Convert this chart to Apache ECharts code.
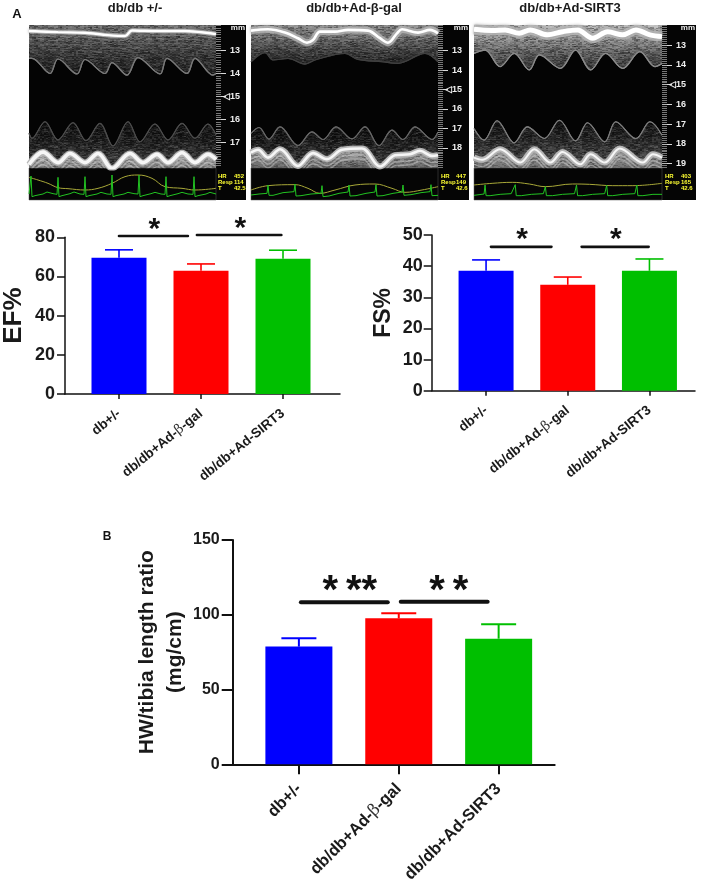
<!DOCTYPE html>
<html><head><meta charset="utf-8">
<style>html,body{margin:0;padding:0;background:#fff}#c{width:709px;height:880px}</style>
<script src="https://cdn.jsdelivr.net/npm/echarts@6/dist/echarts.min.js"></script></head>
<body><div id="c"></div>
<script>
// ---------- bar chart data ----------
const categories = ['db+/-', 'db/db+Ad-β-gal', 'db/db+Ad-SIRT3'];
const barColors = ['#0000ff', '#ff0000', '#00bf00'];
const efMean = [69.5, 62.9, 69.0];
const efUpper = [73.6, 66.4, 73.4];
const fsMean = [38.5, 34.0, 38.5];
const fsUpper = [42.0, 36.5, 42.3];
const hwMean = [78.7, 97.6, 84.0];
const hwUpper = [84.3, 101.0, 93.6];
const efSig = [[0, 0.84, 80.7], [0.95, 1.98, 81.2]];
const fsSig = [[0.06, 0.80, 46.2], [1.17, 1.99, 46.2]];
const hwSig = [[0.02, 0.89, 108.3], [1.02, 1.89, 108.7]];
const efStars = [[0.43, 87.1, '*'], [1.48, 87.6, '*']];
const fsStars = [[0.44, 50.3, '*'], [1.59, 50.3, '*']];
const hwStars = [[0.51, 120.6, '*\u2009**'], [1.50, 120.6, '*\u2009*']];
const efTicks = [0, 20, 40, 60, 80];
const fsTicks = [0, 10, 20, 30, 40, 50];
const hwTicks = [0, 50, 100, 150];

// ---------- M-mode traces: sweep position, depth in mm ----------
const p1WallX = [0, 29, 56, 79, 96, 103, 129, 156, 183, 187];
const p1WallMm = [12.14, 12.19, 12.22, 12.32, 12.36, 12.12, 12.14, 12.14, 12.25, 12.28];
const p1EndoX = [0, 3, 21, 29, 48, 56, 76, 83, 98, 109, 131, 138, 158, 166, 184, 187];
const p1EndoMm = [13.33, 13.33, 13.99, 13.36, 14.01, 13.38, 13.99, 13.52, 14.06, 13.30, 14.01, 13.33, 13.99, 13.33, 14.06, 13.99];
const p1LowerX = [0, 3, 16, 29, 44, 57, 71, 84, 99, 111, 126, 139, 153, 166, 179, 187];
const p1LowerMm = [16.59, 16.81, 16.09, 16.88, 16.13, 16.91, 16.16, 17.14, 16.09, 16.96, 16.19, 16.88, 16.16, 16.81, 16.19, 16.67];
const p1BandX = [0, 14, 29, 41, 56, 69, 83, 101, 114, 128, 139, 153, 166, 179, 187];
const p1BandMm = [17.83, 17.29, 17.75, 17.35, 17.75, 17.35, 18.0, 17.35, 17.75, 17.39, 17.75, 17.32, 17.75, 17.39, 17.61];
const p1EcgX = [0, 1, 2, 3, 6, 14, 18, 24, 28, 29, 30, 33, 41, 45, 51, 55, 56, 57, 60, 68, 72, 78, 82, 83, 84, 87, 95, 99, 105, 109, 110, 111, 114, 122, 126, 132, 136, 137, 138, 141, 149, 153, 159, 164, 165, 166, 169, 177, 181, 187];
const p1EcgV = [8, 8, 62, 0, 3, 8, 14, 9, 7, 58, 0, 3, 9, 14, 8, 7, 60, 0, 3, 8, 13, 8, 7, 65, 0, 3, 8, 13, 9, 8, 65, 0, 3, 9, 13, 8, 7, 60, 0, 3, 9, 13, 8, 7, 60, 0, 3, 8, 13, 8];
const p1RespX = [0, 9, 19, 29, 39, 56, 69, 83, 96, 109, 123, 136, 153, 166, 187];
const p1RespV = [58, 50, 40, 27, 24, 20, 25, 40, 60, 65, 55, 30, 25, 20, 25];

const p2WallX = [0, 17, 34, 47, 56, 62, 69, 84, 97, 117, 129, 137, 146, 151, 167, 179, 187];
const p2WallMm = [11.97, 11.90, 12.07, 12.36, 12.59, 12.45, 12.02, 12.02, 11.93, 11.97, 12.36, 12.59, 12.11, 11.90, 12.07, 11.93, 12.11];
const p2EndoX = [0, 14, 22, 37, 54, 64, 94, 107, 131, 147, 174, 187];
const p2EndoMm = [13.57, 13.10, 13.48, 13.40, 13.69, 13.48, 13.14, 13.45, 13.57, 13.65, 13.14, 13.57];
const p2LowerX = [0, 8, 18, 29, 47, 61, 72, 85, 101, 114, 128, 141, 152, 164, 181, 187];
const p2LowerMm = [17.26, 16.95, 17.55, 16.92, 17.88, 17.18, 17.57, 16.92, 17.54, 16.92, 17.88, 17.09, 17.57, 16.92, 17.57, 17.18];
const p2BandX = [0, 7, 17, 29, 47, 62, 76, 91, 111, 129, 144, 159, 169, 181, 187];
const p2BandMm = [18.12, 17.98, 18.38, 17.95, 18.81, 18.15, 18.46, 17.98, 17.91, 18.84, 18.26, 18.21, 18.03, 18.29, 18.26];
const p2EcgX = [0, 8, 16, 17, 18, 22, 32, 43, 44, 45, 50, 60, 70, 71, 72, 78, 88, 97, 98, 99, 105, 115, 124, 125, 126, 132, 142, 151, 152, 153, 160, 170, 179, 180, 181, 187];
const p2EcgV = [5, 8, 10, 35, 4, 4, 12, 15, 38, 2, 3, 8, 10, 33, 0, 2, 10, 14, 35, 2, 3, 10, 14, 36, 2, 3, 10, 14, 35, 4, 6, 12, 15, 36, 3, 4];
const p2RespX = [0, 17, 44, 57, 69, 84, 104, 124, 141, 154, 171, 187];
const p2RespV = [20, 33, 36, 25, 10, 20, 35, 38, 25, 13, 20, 30];

const p3WallX = [0, 18, 31, 45, 56, 73, 88, 103, 118, 133, 148, 161, 175, 187];
const p3WallMm = [12.19, 12.25, 12.22, 12.39, 12.22, 12.47, 12.31, 12.22, 12.64, 12.31, 12.47, 12.22, 12.47, 12.56];
const p3EndoX = [0, 11, 26, 40, 55, 65, 86, 101, 116, 131, 148, 165, 180, 187];
const p3EndoMm = [13.41, 13.24, 14.08, 13.41, 14.25, 13.49, 14.17, 13.24, 14.25, 13.41, 14.17, 13.32, 14.08, 13.92];
const p3LowerX = [0, 10, 23, 40, 53, 70, 85, 101, 113, 130, 141, 161, 175, 187];
const p3LowerMm = [17.22, 17.81, 16.83, 17.95, 17.14, 17.73, 16.80, 17.85, 16.93, 17.90, 16.88, 17.73, 16.88, 17.56];
const p3BandX = [0, 8, 26, 46, 60, 76, 88, 106, 116, 130, 145, 168, 178, 187];
const p3BandMm = [18.58, 18.69, 18.15, 18.83, 18.15, 18.83, 18.29, 18.92, 18.41, 18.83, 18.12, 18.83, 18.41, 18.58];
const p3EcgX = [0, 5, 10, 11, 12, 16, 26, 37, 41, 42, 47, 57, 69, 71, 72, 78, 88, 100, 102, 103, 108, 118, 130, 132, 133, 138, 148, 160, 162, 163, 168, 178, 187];
const p3EcgV = [4, 6, 8, 35, 3, 3, 7, 9, 36, 3, 3, 7, 9, 30, 3, 3, 7, 9, 35, 3, 3, 7, 9, 34, 3, 3, 7, 9, 35, 3, 3, 7, 7];
const p3RespX = [0, 18, 38, 55, 71, 98, 115, 138, 158, 187];
const p3RespV = [35, 40, 43, 38, 30, 38, 37, 33, 33, 40];

const panelTitles = ['db/db +/-', 'db/db+Ad-β-gal', 'db/db+Ad-SIRT3'];
const rulerLabels = [[13, 14, 15, 16, 17], [13, 14, 15, 16, 17, 18], [13, 14, 15, 16, 17, 18, 19]];
const vitals = [['452', '114', '42.5'], ['447', '149', '42.6'], ['403', '165', '42.6']];

const FONT = '"Liberation Sans", Arial, sans-serif';
const zip = (xs, ys) => xs.map((x, i) => [x, ys[i]]);
const grids = [], xAxes = [], yAxes = [], series = [], graphics = [];

// speckle tile used only as a fill texture for the ultrasound tissue
const tile = document.createElement('canvas');
tile.width = 120; tile.height = 60;
(function () {
  const ctx = tile.getContext('2d');
  const h = (x, y) => { const s = Math.sin(x * 12.9898 + y * 78.233) * 43758.5453; return s - Math.floor(s); };
  for (let y = 0; y < 60; y++) for (let x = 0; x < 120; x += 2) {
    const v = h(x, y);
    ctx.fillStyle = v < 0.55 ? 'rgba(0,0,0,' + (0.55 - v) * 0.7 + ')' : 'rgba(255,255,255,' + (v - 0.55) * 0.25 + ')';
    ctx.fillRect(x, y, 2 + (h(y, x) > 0.6 ? 2 : 0), 1);
  }
})();
const speckle = {image: tile, repeat: 'repeat'};

// ---------- M-mode panels ----------
const panels = [
  {left: 29, width: 187, ruler: 30, min: 11.88, max: 18.08, wall: zip(p1WallX, p1WallMm), endo: zip(p1EndoX, p1EndoMm), lower: zip(p1LowerX, p1LowerMm), band: zip(p1BandX, p1BandMm), ecg: zip(p1EcgX, p1EcgV), resp: zip(p1RespX, p1RespV), tissue: ['#707070', '#161616'], wallW: 2.4, wallHalo: 4.5, bandFill: ['#c4c4c4', '#7c7c7c'], lowFill: ['#060606', '#404040'], vx: [218, 234], lowC: '#4c4c4c', endoC: '#787878', echo: 1, core: 3.6},
  {left: 251, width: 187, ruler: 31, min: 11.68, max: 19.01, wall: zip(p2WallX, p2WallMm), endo: zip(p2EndoX, p2EndoMm), lower: zip(p2LowerX, p2LowerMm), band: zip(p2BandX, p2BandMm), ecg: zip(p2EcgX, p2EcgV), resp: zip(p2RespX, p2RespV), tissue: ['#909090', '#1a1a1a'], wallW: 2.6, wallHalo: 7, bandFill: ['#a8a8a8', '#666'], lowFill: ['#060606', '#404040'], vx: [441, 456], lowC: '#666', endoC: '#404040', echo: 1, core: 2.6},
  {left: 474, width: 188, ruler: 34, min: 11.97, max: 19.2, wall: zip(p3WallX, p3WallMm), endo: zip(p3EndoX, p3EndoMm), lower: zip(p3LowerX, p3LowerMm), band: zip(p3BandX, p3BandMm), ecg: zip(p3EcgX, p3EcgV), resp: zip(p3RespX, p3RespV), tissue: ['#c0c0c0', '#2c2c2c'], wallW: 5, wallHalo: 10, bandFill: ['#a2a2a2', '#707070'], lowFill: ['#080808', '#585858'], vx: [665, 681], lowC: '#7c7c7c', endoC: '#8a8a8a', echo: 1.2, core: 2}
];
const shift = (d, by) => d.map(p => [p[0], p[1] + by]);

panels.forEach((p, i) => {
  const g = grids.length;
  grids.push({left: p.left, top: 25, width: p.width, height: 142.5, show: true, backgroundColor: '#040404', borderWidth: 0, outerBoundsMode: 'none'});
  xAxes.push({gridIndex: g, type: 'value', min: 0, max: 187, show: false});
  const ya = yAxes.length;
  yAxes.push({gridIndex: g, type: 'value', inverse: true, min: p.min, max: p.max, position: 'right', z: 5,
    axisLine: {show: false, onZero: false}, splitLine: {show: false},
    axisTick: {show: true, inside: false, length: 10, lineStyle: {color: '#d8d8d8', width: 1}, customValues: rulerLabels[i]},
    axisLabel: {show: true, customValues: rulerLabels[i], color: '#eee', fontFamily: FONT, fontWeight: 'bold', fontSize: 9, align: 'right', margin: 24,
      formatter: v => v === 15 ? '◁15' : String(v)}});
  const minor = [];
  for (let k = Math.ceil(p.min * 10); k <= p.max * 10; k++) minor.push(k / 10);
  yAxes.push({gridIndex: g, type: 'value', inverse: true, min: p.min, max: p.max, position: 'right', z: 5,
    axisLine: {show: false, onZero: false}, splitLine: {show: false},
    axisTick: {show: true, length: 5, lineStyle: {color: '#aaa', width: 0.7}, customValues: minor},
    axisLabel: {show: false}});
  const line = (data, color, width, extra) => series.push(Object.assign({type: 'line', xAxisIndex: g, yAxisIndex: ya, data, smooth: 0.35, showSymbol: false, silent: true, animation: false,
    lineStyle: {color, width}}, extra || {}));
  const grad = (a, b) => new echarts.graphic.LinearGradient(0, 0, 0, 1, [{offset: 0, color: a}, {offset: 1, color: b}]);
  // upper tissue, filled from the endocardial trace up to the top of the sweep
  line(p.endo, p.endoC, 1.2, {areaStyle: {origin: 'start', color: grad(p.tissue[0], p.tissue[1]), opacity: 1}});
  line(p.endo, p.endoC, 1.2, {areaStyle: {origin: 'start', color: speckle, opacity: 1}});
  [-0.12, -0.28, -0.46].forEach((d, k) => line(shift(p.endo, d), 'rgba(150,150,150,' + (0.13 - k * 0.03) * p.echo + ')', 1));
  [0.2, 0.36, 0.55, 0.78].forEach((d, k) => line(shift(p.wall, d), 'rgba(190,190,190,' + (0.26 - k * 0.05) * p.echo + ')', 1));
  // anterior wall
  line(p.wall, 'rgba(190,190,190,0.7)', p.wallHalo, {lineStyle: {color: 'rgba(190,190,190,0.7)', width: p.wallHalo, shadowBlur: 3, shadowColor: '#888'}});
  line(p.wall, '#fff', p.wallW);
  // lower tissue and posterior wall
  line(p.lower, p.lowC, 1.1, {areaStyle: {origin: 'end', color: grad(p.lowFill[0], p.lowFill[1]), opacity: 1}});
  line(p.lower, p.lowC, 1.1, {areaStyle: {origin: 'end', color: speckle, opacity: 1}});
  [0.14, 0.32].forEach(d => line(shift(p.lower, d), 'rgba(130,130,130,0.14)', 1));
  line(shift(p.band, 0.12), '#b4b4b4', 6, {areaStyle: {origin: 'end', color: grad(p.bandFill[0], p.bandFill[1]), opacity: 1}});
  line(shift(p.band, 0.12), '#b4b4b4', 0, {areaStyle: {origin: 'end', color: speckle, opacity: 0.7}});
  [0.46, 0.66].forEach(d => line(shift(p.band, d), 'rgba(235,235,235,0.38)', 1.6));
  line(shift(p.band, 0.12), '#f6f6f6', p.core, {lineStyle: {color: '#f6f6f6', width: p.core, shadowBlur: 3, shadowColor: '#bbb'}});

  // ruler + ECG backdrop
  graphics.push({type: 'rect', z: -1, shape: {x: p.left + p.width, y: 25, width: p.ruler, height: 175}, style: {fill: '#050505'}});
  graphics.push({type: 'rect', z: -1, shape: {x: p.left, y: 168, width: p.width, height: 32}, style: {fill: '#050505', stroke: '#555', lineWidth: 0.5}});
  graphics.push({type: 'text', z: 10, style: {x: p.left + p.width + p.ruler - 1, y: 24, text: 'mm', fill: '#eee', font: 'bold 8px ' + FONT, textAlign: 'right', textVerticalAlign: 'top'}});
  ['HR', 'Resp', 'T'].forEach((t, k) => {
    const y = 176 + k * 6.4;
    graphics.push({type: 'text', z: 10, style: {x: p.vx[0], y, text: t, fill: '#ffff33', font: 'bold 6px ' + FONT, textVerticalAlign: 'middle'}});
    graphics.push({type: 'text', z: 10, style: {x: p.vx[1], y, text: vitals[i][k], fill: '#ffff33', font: 'bold 6px ' + FONT, textVerticalAlign: 'middle'}});
  });

  // ECG + respiration strip
  const s = grids.length;
  grids.push({left: p.left, top: 170, width: p.width, height: 30, show: false, outerBoundsMode: 'none'});
  xAxes.push({gridIndex: s, type: 'value', min: 0, max: 187, show: false});
  const sy = yAxes.length;
  yAxes.push({gridIndex: s, type: 'value', min: -10, max: 80, show: false});
  series.push({type: 'line', xAxisIndex: s, yAxisIndex: sy, data: p.resp, smooth: 0.4, showSymbol: false, animation: false, silent: true, lineStyle: {color: '#a8a838', width: 1}});
  series.push({type: 'line', xAxisIndex: s, yAxisIndex: sy, data: p.ecg, showSymbol: false, animation: false, silent: true, lineStyle: {color: '#22c322', width: 1}});
  graphics.push({type: 'text', z: 10, style: {x: [135, 354, 570][i], y: 8, text: panelTitles[i], fill: '#1a1a1a', font: 'bold 13px ' + FONT, textAlign: 'center', textVerticalAlign: 'middle'}});
});

// ---------- bar charts ----------
function addBars(c) {
  const g = grids.length;
  grids.push({left: c.left, top: c.top, width: c.width, height: c.height, outerBoundsMode: 'none'});
  xAxes.push({gridIndex: g, type: 'value', min: c.xMin, max: c.xMax, splitLine: {show: false},
    axisLine: {show: true, onZero: false, lineStyle: {color: '#111', width: c.lw}},
    axisTick: {show: true, length: c.xTick, customValues: [0, 1, 2], lineStyle: {color: '#111', width: c.lw}},
    axisLabel: {show: true, customValues: [0, 1, 2], rotate: c.rot, margin: c.xMargin, color: '#1a1a1a', fontFamily: FONT, fontWeight: 'bold', fontSize: c.xFont,
      formatter: v => categories[v].replace('β', '{t|β}'),
      rich: {t: {fontFamily: '"DejaVu Serif", serif', fontWeight: 'normal', fontSize: c.xFont, color: '#333'}}}});
  yAxes.push({gridIndex: g, type: 'value', min: c.ticks[0], max: c.ticks[c.ticks.length - 1], interval: c.ticks[1] - c.ticks[0], splitLine: {show: false},
    name: c.name, nameLocation: 'middle', nameGap: c.nameGap, nameRotate: 90,
    nameTextStyle: {color: '#1a1a1a', fontFamily: FONT, fontWeight: 'bold', fontSize: c.nameFont, lineHeight: c.nameLH},
    axisLine: {show: true, onZero: false, lineStyle: {color: '#111', width: c.lw}},
    axisTick: {show: true, length: c.yTick, lineStyle: {color: '#111', width: c.lw}},
    axisLabel: {show: true, color: '#1a1a1a', margin: c.yMargin, fontFamily: FONT, fontWeight: 'bold', fontSize: c.yFont}});
  const y = yAxes.length - 1;
  series.push({type: 'custom', xAxisIndex: g, yAxisIndex: y, animation: false, silent: true, z: 2,
    data: c.mean.map((v, i) => [i, v]),
    renderItem(params, api) {
      const top = api.coord([api.value(0), api.value(1)]), base = api.coord([api.value(0), 0]);
      return {type: 'rect', shape: {x: top[0] - c.barW / 2, y: top[1], width: c.barW, height: base[1] - top[1]}, style: {fill: barColors[api.value(0)]}};
    }});
  series.push({type: 'custom', xAxisIndex: g, yAxisIndex: y, animation: false, silent: true, z: 3,
    data: c.upper.map((v, i) => [i, v, c.mean[i]]),
    renderItem(params, api) {
      const top = api.coord([api.value(0), api.value(1)]), base = api.coord([api.value(0), api.value(2)]);
      const stroke = barColors[api.value(0)];
      const st = {stroke, lineWidth: c.errW, fill: 'none'};
      return {type: 'group', children: [
        {type: 'line', shape: {x1: top[0], y1: top[1], x2: base[0], y2: base[1]}, style: st},
        {type: 'line', shape: {x1: top[0] - c.capW / 2, y1: top[1], x2: top[0] + c.capW / 2, y2: top[1]}, style: st}]};
    }});
  series.push({type: 'custom', xAxisIndex: g, yAxisIndex: y, animation: false, silent: true, z: 4, data: c.sig,
    renderItem(params, api) {
      const a = api.coord([api.value(0), api.value(2)]), b = api.coord([api.value(1), api.value(2)]);
      return {type: 'line', shape: {x1: a[0], y1: a[1], x2: b[0], y2: b[1]}, style: {stroke: '#111', lineWidth: c.sigW, lineCap: 'round'}};
    }});
  series.push({type: 'custom', xAxisIndex: g, yAxisIndex: y, animation: false, silent: true, z: 4,
    data: c.stars,
    renderItem(params, api) {
      const pt = api.coord([api.value(0), api.value(1)]);
      return {type: 'text', style: {x: pt[0], y: pt[1] + c.starFont * 0.2, text: c.stars[params.dataIndex][2], fill: '#111', font: 'bold ' + c.starFont + 'px ' + FONT, textAlign: 'center', textVerticalAlign: 'middle'}};
    }});
}
addBars({left: 65, top: 237.3, width: 275, height: 156.7, xMin: -0.6585, xMax: 2.695, ticks: efTicks, mean: efMean, upper: efUpper, sig: efSig, stars: efStars,
  name: 'EF%', nameFont: 26, nameGap: 36, nameLH: 30, lw: 1.5, xTick: 5, yTick: 8, rot: 39, xMargin: 18, xFont: 13.5, yFont: 18, yMargin: 10, barW: 55, capW: 28, errW: 1.6, sigW: 2.6, starFont: 30});
addBars({left: 431.7, top: 235, width: 263.3, height: 155.7, xMin: -0.6655, xMax: 2.5576, ticks: fsTicks, mean: fsMean, upper: fsUpper, sig: fsSig, stars: fsStars,
  name: 'FS%', nameFont: 23, nameGap: 35, nameLH: 26, lw: 1.5, xTick: 5, yTick: 8, rot: 39, xMargin: 18, xFont: 13.5, yFont: 18, yMargin: 9, barW: 55, capW: 28, errW: 1.6, sigW: 2.6, starFont: 30});
addBars({left: 232.7, top: 540, width: 322, height: 224.3, xMin: -0.6627, xMax: 2.5613, ticks: hwTicks, mean: hwMean, upper: hwUpper, sig: hwSig, stars: hwStars,
  name: 'HW/tibia length ratio\n(mg/cm)', nameFont: 21, nameGap: 43, nameLH: 28, lw: 2, xTick: 10, yTick: 11, rot: 45, xMargin: 22, xFont: 16.5, yFont: 16, yMargin: 13, barW: 67, capW: 35, errW: 2, sigW: 4, starFont: 40});

graphics.push({type: 'text', style: {x: 17, y: 14, text: 'A', fill: '#111', font: 'bold 13px ' + FONT, textAlign: 'center', textVerticalAlign: 'middle'}});
graphics.push({type: 'text', style: {x: 107, y: 537, text: 'B', fill: '#111', font: 'bold 12px ' + FONT, textAlign: 'center', textVerticalAlign: 'middle'}});

const chart = echarts.init(document.getElementById('c'), null, {renderer: 'canvas'});
chart.setOption({backgroundColor: '#fff', animation: false, grid: grids, xAxis: xAxes, yAxis: yAxes, series, graphic: {elements: graphics}});
</script></body></html>
